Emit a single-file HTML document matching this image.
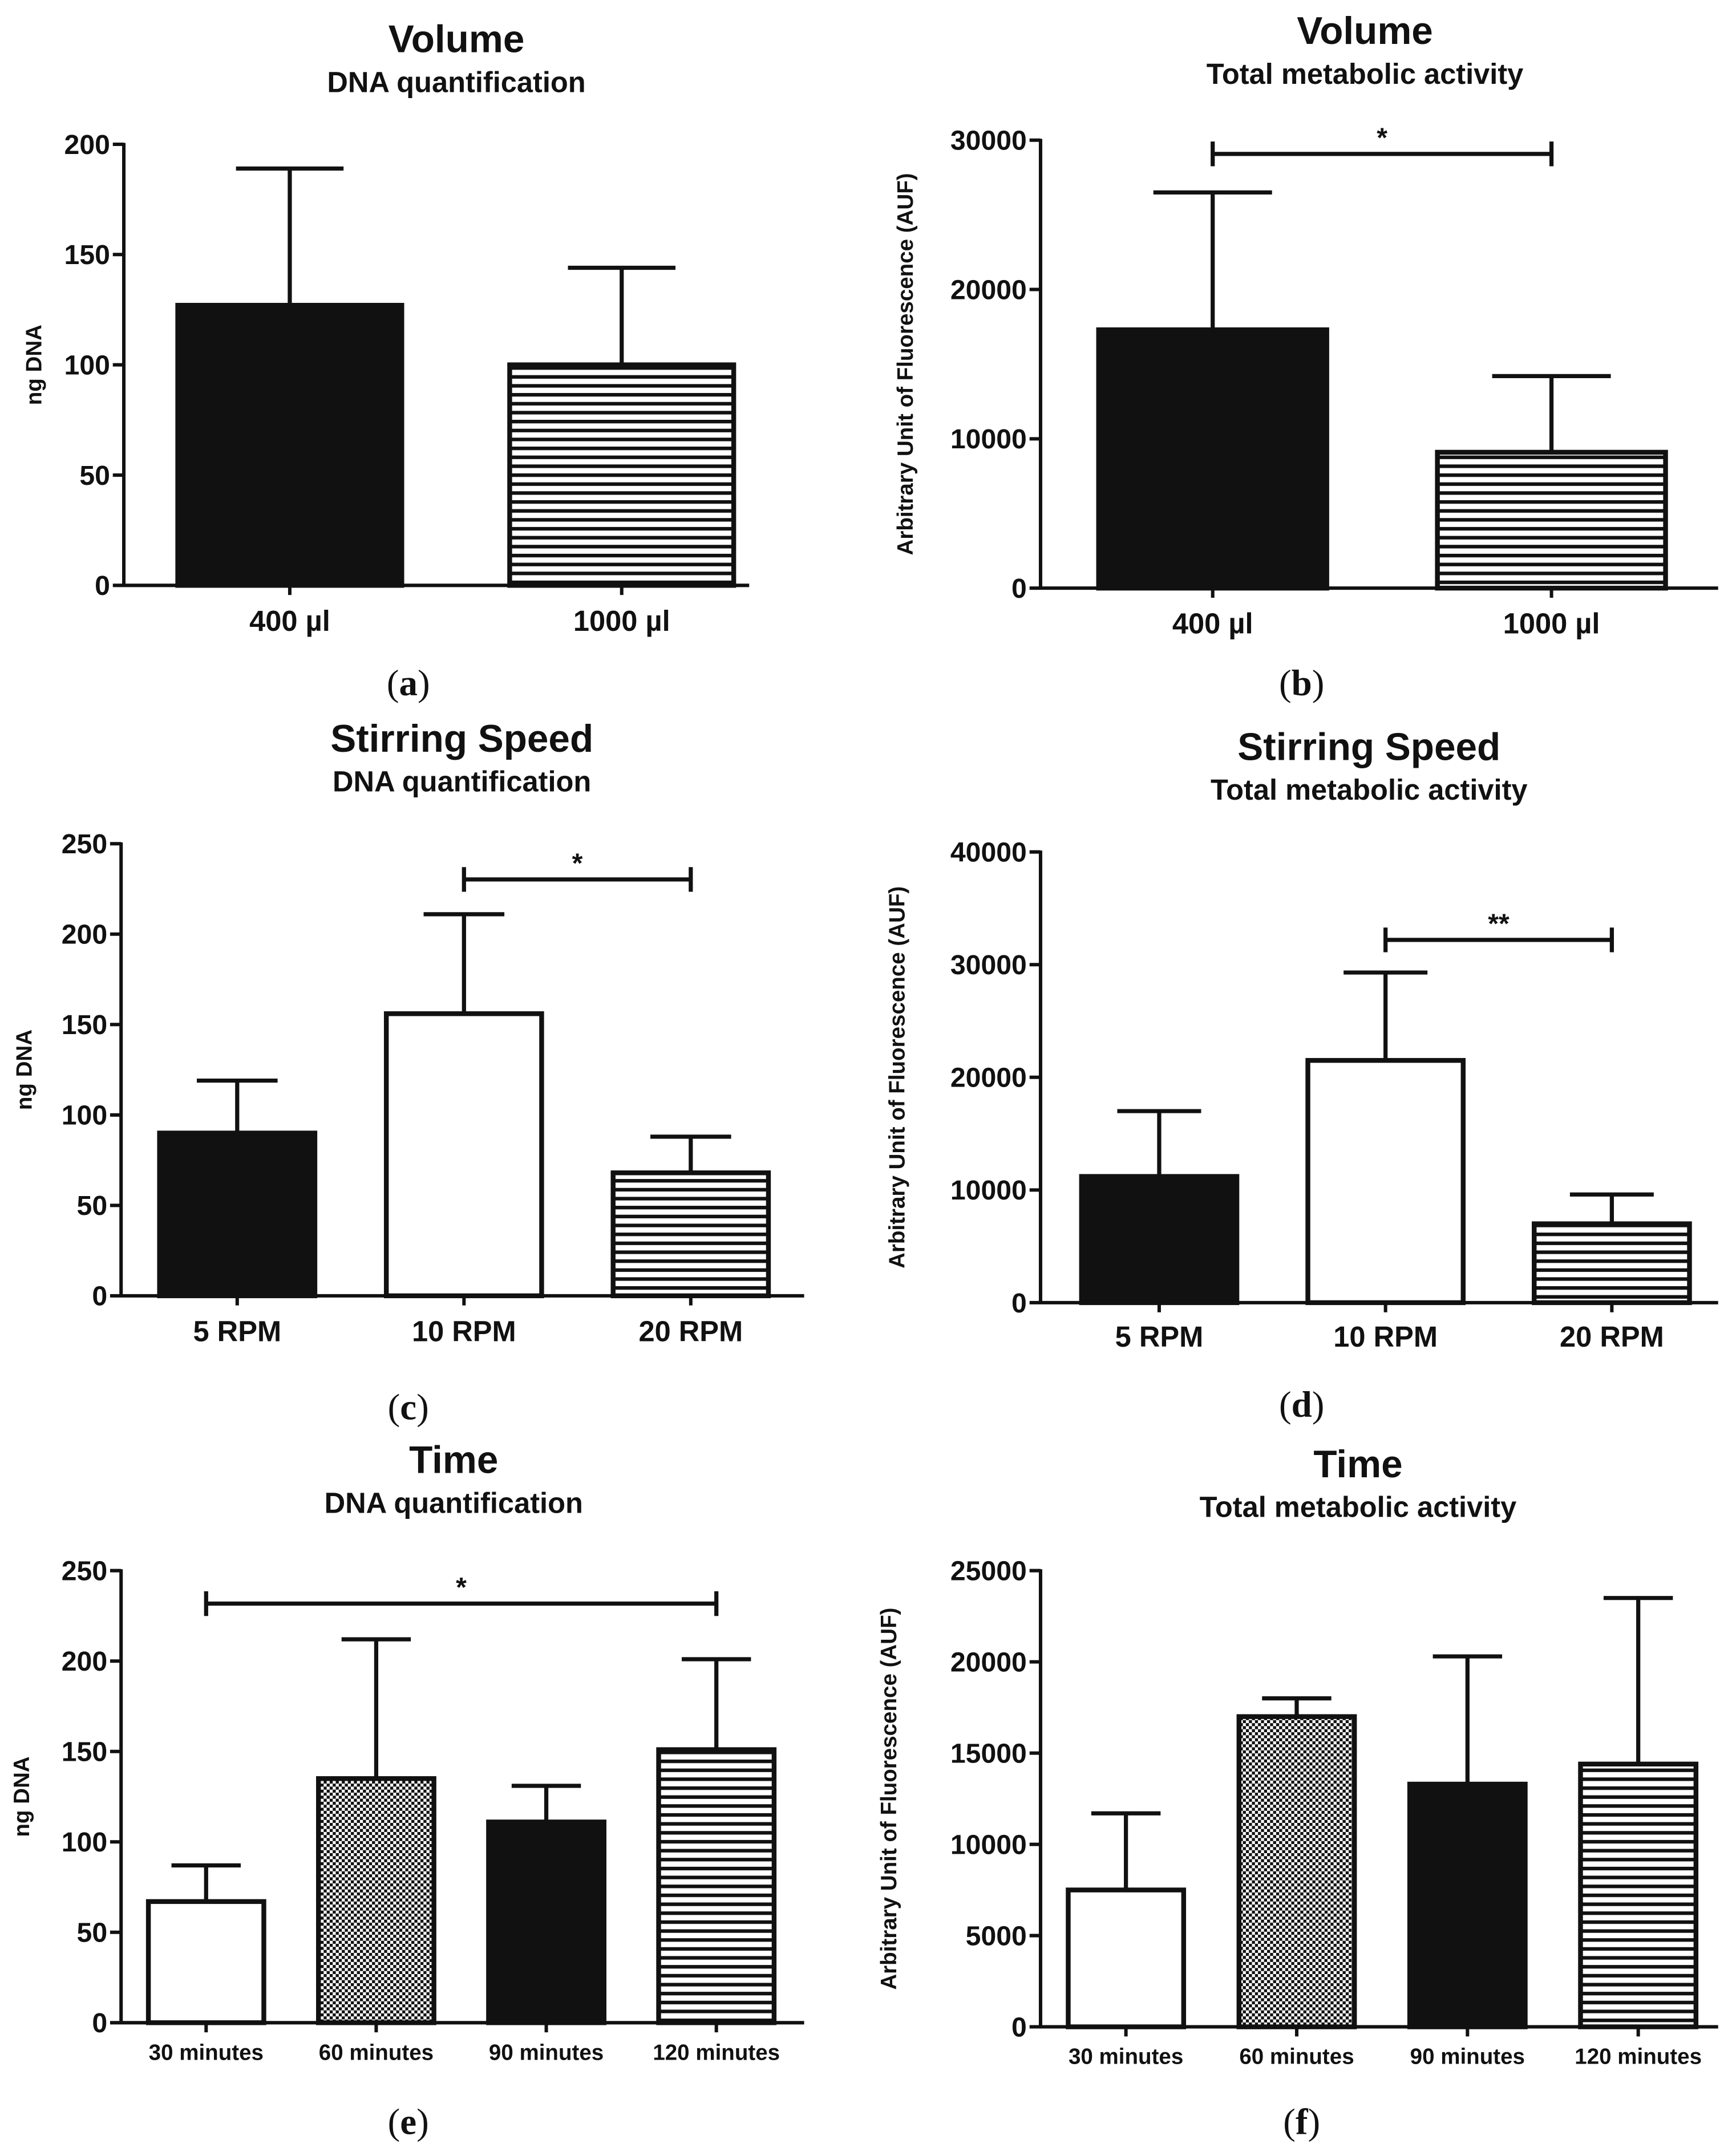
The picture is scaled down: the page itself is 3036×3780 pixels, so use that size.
<!DOCTYPE html>
<html><head><meta charset="utf-8"><style>
html,body{margin:0;padding:0;background:#fff}
svg{display:block}
text{font-family:"Liberation Sans",Arial,sans-serif;fill:#111}
</style></head><body>
<svg id="fig" width="3036" height="3780" viewBox="0 0 1260 1569" xmlns="http://www.w3.org/2000/svg">
<defs>
<pattern id="stripes" patternUnits="userSpaceOnUse" width="8" height="6.5"><rect width="8" height="6.5" fill="#fff"/><rect y="0" width="8" height="2.6" fill="#111"/></pattern>
<pattern id="checker" patternUnits="userSpaceOnUse" width="4.4" height="4.4"><rect width="4.4" height="4.4" fill="#fff"/><rect width="2.2" height="2.2" fill="#111"/><rect x="2.2" y="2.2" width="2.2" height="2.2" fill="#111"/></pattern>
</defs>
<g id="root"></g>
</svg>
<script>
// Panel a
const catsA=["400 µl","1000 µl"], valsA=[127,100], errA=[189,144], ticksA=[0,50,100,150,200];
// Panel b
const catsB=["400 µl","1000 µl"], valsB=[17300,9100], errB=[26500,14200], ticksB=[0,10000,20000,30000];
// Panel c
const catsC=["5 RPM","10 RPM","20 RPM"], valsC=[90,156,68], errC=[119,211,88], ticksC=[0,50,100,150,200,250];
// Panel d
const catsD=["5 RPM","10 RPM","20 RPM"], valsD=[11200,21500,7000], errD=[17000,29300,9600], ticksD=[0,10000,20000,30000,40000];
// Panel e
const catsE=["30 minutes","60 minutes","90 minutes","120 minutes"], valsE=[67,135,111,151], errE=[87,212,131,201], ticksE=[0,50,100,150,200,250];
// Panel f
const catsF=["30 minutes","60 minutes","90 minutes","120 minutes"], valsF=[7500,17000,13300,14400], errF=[11700,18000,20300,23500], ticksF=[0,5000,10000,15000,20000,25000];

const NS="http://www.w3.org/2000/svg";
const root=document.getElementById('root');
function mk(tag,attrs,parent,txt){const e=document.createElementNS(NS,tag);for(const k in attrs)e.setAttribute(k,attrs[k]);if(txt!==undefined)e.textContent=txt;(parent||root).appendChild(e);return e;}

function panel(o){
  const g=mk('g',{});
  
  
  const ymax=o.ticks[o.ticks.length-1];
  const Y=v=>o.y0-(v/ymax)*(o.y0-o.yTop);
  const n=o.cats.length;
  const bx0=o.bx0!==undefined?o.bx0:o.x0, bx1=o.bx1!==undefined?o.bx1:o.x1;
  const band=(bx1-bx0)/n;
  const X=i=>bx0+band*(i+0.5);
  let t=mk('text',{x:o.tx,y:o.ty,'text-anchor':'middle','font-size':28,'font-weight':'bold'},g,o.title);
  
  
  t=mk('text',{x:o.tx,y:o.ty+29,'text-anchor':'middle','font-size':21,'font-weight':'bold'},g,o.sub);
  
  
  t=mk('text',{transform:`translate(${o.ylx},${(o.y0+o.yTop)/2}) rotate(-90)`,'text-anchor':'middle','font-size':o.ylfs,'font-weight':'bold'},g,o.ylabel);
  
  
  for(let i=0;i<n;i++){
    const cx=X(i), w=o.bw, top=Y(o.vals[i]), et=Y(o.err[i]);
    const l=mk('line',{x1:cx,x2:cx,y1:top,y2:et,stroke:'#111','stroke-width':3},g);
    
    
    const c=mk('line',{x1:cx-w*o.cap,x2:cx+w*o.cap,y1:et,y2:et,stroke:'#111','stroke-width':3},g);
    
    
    const r=mk('rect',{x:cx-w/2,y:top,width:w,height:o.y0-top,fill:o.fills[i],stroke:'#111','stroke-width':3.5},g);
    
    
    t=mk('text',{x:cx,y:o.xly,'text-anchor':'middle','font-size':o.xlfs,'font-weight':'bold'},g,o.cats[i]);
    
    
    const tk=mk('line',{x1:cx,x2:cx,y1:o.y0,y2:o.y0+7,stroke:'#111','stroke-width':2.5},g);
    
    
  }
  let a=mk('line',{x1:o.x0,x2:o.x0,y1:o.yTop-1,y2:o.y0+1,stroke:'#111','stroke-width':2.5},g);
  
  
  a=mk('line',{x1:o.x0,x2:o.x1,y1:o.y0,y2:o.y0,stroke:'#111','stroke-width':2.5},g);
  
  
  for(const v of o.ticks){
    const y=Y(v);
    const tk=mk('line',{x1:o.x0-8,x2:o.x0,y1:y,y2:y,stroke:'#111','stroke-width':2.5},g);
    
    
    t=mk('text',{x:o.x0-10,y:y+7,'text-anchor':'end','font-size':20,'font-weight':'bold'},g,String(v));
    
    
  }
  if(o.sig){
    const xa=X(o.sig[0]), xb=X(o.sig[1]), y=o.sig[2];
    const b=mk('path',{d:`M${xa},${y-9}V${y+9}M${xa},${y}H${xb}M${xb},${y-9}V${y+9}`,stroke:'#111','stroke-width':3,fill:'none'},g);
    
    
    t=mk('text',{x:(xa+xb)/2,y:y-5,'text-anchor':'middle','font-size':20,'font-weight':'bold'},g,o.sig[3]);
    
    
  }
  t=mk('text',{x:o.cx,y:o.cy,'text-anchor':'middle','font-size':27,style:'font-family:"Liberation Serif",serif'},g,'');
  t.appendChild(document.createTextNode('('));
  mk('tspan',{'font-weight':'bold'},t,o.id);
  t.appendChild(document.createTextNode(')'));
  
  
}
const S='url(#stripes)', C='url(#checker)', B='#111', W='#fff';
panel({id:'a',title:'Volume',sub:'DNA quantification',tx:332,ty:38,ylabel:'ng DNA',ylx:30,ylfs:16,x0:90,x1:545,bx0:90,bx1:573,y0:426,yTop:105,cats:catsA,vals:valsA,err:errA,ticks:ticksA,bw:163,cap:0.24,fills:[B,S],xly:459,xlfs:21,cx:297,cy:506});
panel({id:'b',title:'Volume',sub:'Total metabolic activity',tx:993,ty:32,ylabel:'Arbitrary Unit of Fluorescence (AUF)',ylx:664,ylfs:16,x0:757,x1:1250,bx0:759,bx1:1252,y0:428,yTop:102,cats:catsB,vals:valsB,err:errB,ticks:ticksB,bw:166,cap:0.26,fills:[B,S],xly:461,xlfs:21,sig:[0,1,112,'*'],cx:947,cy:506});
panel({id:'c',title:'Stirring Speed',sub:'DNA quantification',tx:336,ty:547,ylabel:'ng DNA',ylx:23,ylfs:16,x0:88,x1:585,bx0:90,bx1:585,y0:943,yTop:614,cats:catsC,vals:valsC,err:errC,ticks:ticksC,bw:113,cap:0.26,fills:[B,W,S],xly:976,xlfs:21,sig:[1,2,640,'*'],cx:297,cy:1033});
panel({id:'d',title:'Stirring Speed',sub:'Total metabolic activity',tx:996,ty:553,ylabel:'Arbitrary Unit of Fluorescence (AUF)',ylx:658,ylfs:16,x0:757,x1:1250,bx0:761,bx1:1255,y0:948,yTop:620,cats:catsD,vals:valsD,err:errD,ticks:ticksD,bw:113,cap:0.27,fills:[B,W,S],xly:980,xlfs:21,sig:[1,2,684,'**'],cx:947,cy:1031});
panel({id:'e',title:'Time',sub:'DNA quantification',tx:330,ty:1072,ylabel:'ng DNA',ylx:21,ylfs:16,x0:88,x1:585,bx0:88,bx1:583,y0:1472,yTop:1143,cats:catsE,vals:valsE,err:errE,ticks:ticksE,bw:84,cap:0.3,fills:[W,C,B,S],xly:1499,xlfs:16,sig:[0,3,1167,'*'],cx:297,cy:1553});
panel({id:'f',title:'Time',sub:'Total metabolic activity',tx:988,ty:1075,ylabel:'Arbitrary Unit of Fluorescence (AUF)',ylx:652,ylfs:16,x0:757,x1:1250,bx0:757,bx1:1254,y0:1475,yTop:1143,cats:catsF,vals:valsF,err:errF,ticks:ticksF,bw:84,cap:0.3,fills:[W,C,B,S],xly:1502,xlfs:16,cx:947,cy:1553});
</script>
</body></html>
